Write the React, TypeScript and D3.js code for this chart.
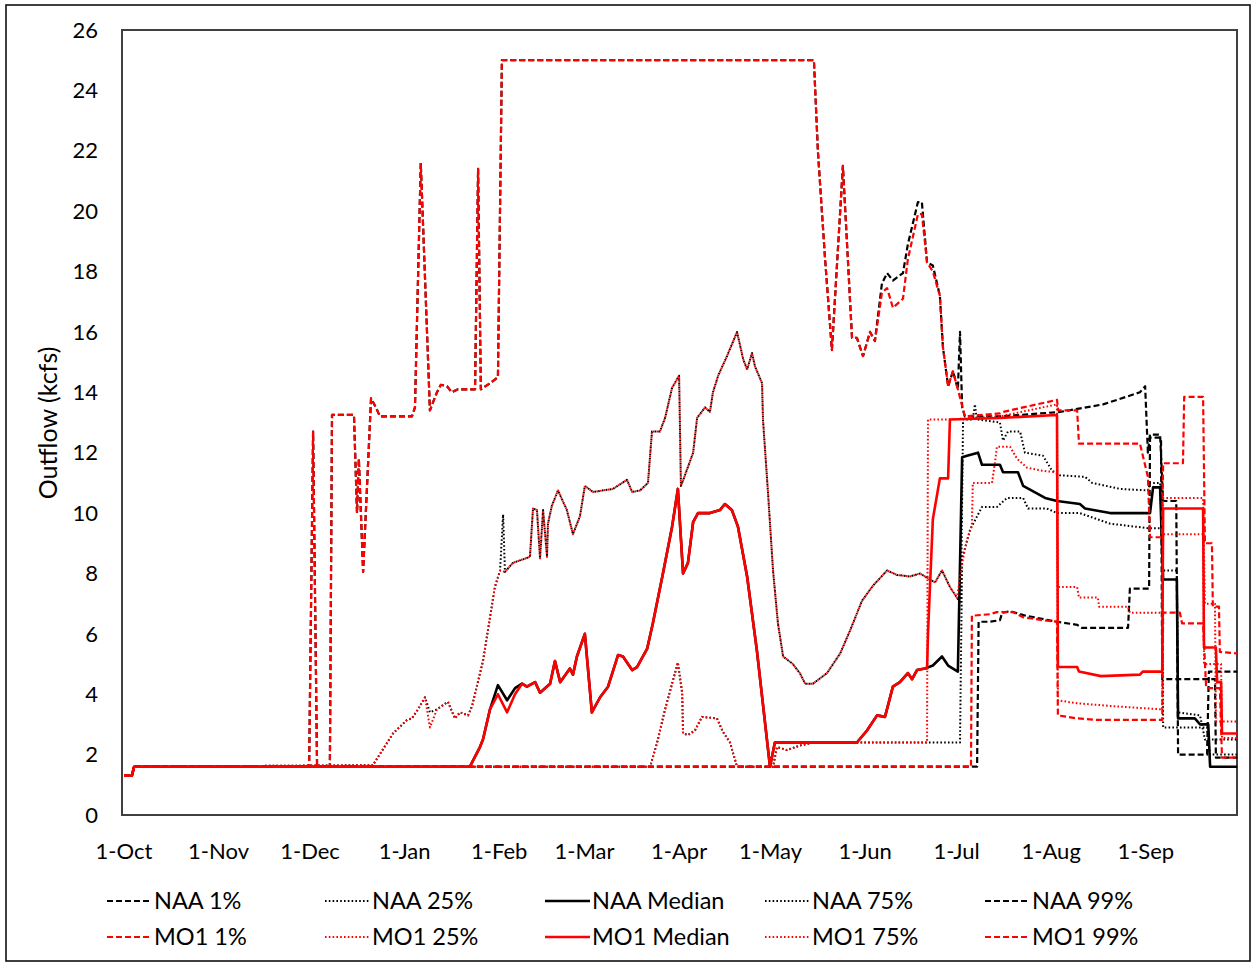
import React from "react";
import * as d3 from "d3";

type Pt = [number, number];

// x = day of water year (0 = 1-Oct), y = outflow (kcfs)
const monthTicks: [number, string][] = [
  [0, "1-Oct"], [31, "1-Nov"], [61, "1-Dec"], [92, "1-Jan"], [123, "1-Feb"], [151, "1-Mar"],
  [182, "1-Apr"], [212, "1-May"], [243, "1-Jun"], [273, "1-Jul"], [304, "1-Aug"], [335, "1-Sep"],
];
const yTicks = [0, 2, 4, 6, 8, 10, 12, 14, 16, 18, 20, 22, 24, 26];

const startPts: Pt[] = [[0, 1.3], [2.6, 1.3], [3.3, 1.6]];

const high99Winter: Pt[] = [
  [60.7, 1.6], [62.0, 12.7], [63.3, 1.6], [67.5, 1.6], [68.2, 13.25], [75.4, 13.25], [76.4, 10.0],
  [77.0, 11.8], [78.4, 8.05], [81.0, 13.8], [82.6, 13.5], [83.9, 13.2], [94.4, 13.2], [95.4, 13.5],
  [97.3, 21.6], [100.3, 13.4], [102.6, 14.0], [103.9, 14.25], [105.9, 14.2], [107.5, 14.0], [109.5, 14.1],
  [115.1, 14.1], [116.1, 21.4], [117.0, 14.1], [120.0, 14.3], [122.6, 14.5], [123.9, 25.0], [226.2, 25.0],
  [227.5, 22.0], [229.8, 18.5], [232.1, 15.4], [235.7, 21.5], [238.7, 15.8], [240.3, 15.8], [242.3, 15.2],
  [244.6, 16.0], [246.2, 15.7],
];

const naa99Summer: Pt[] = [
  [248.5, 17.6], [250.2, 17.95], [252.1, 17.7], [255.4, 17.95], [257.0, 18.9], [260.3, 20.3], [261.6, 20.3],
  [263.3, 18.3], [265.2, 18.2], [267.5, 17.2], [268.5, 15.5], [270.2, 14.2], [271.8, 14.7], [273.4, 14.1],
  [274.1, 16.0], [274.8, 13.5], [275.7, 13.2], [287.2, 13.2], [306.9, 13.35], [321.0, 13.6], [333.1, 14.0],
  [334.8, 14.2], [335.7, 12.0], [336.4, 12.6], [339.7, 12.6], [340.7, 10.4], [345.0, 10.4], [345.6, 2.0],
  [355.1, 2.0], [355.7, 4.75], [365, 4.75],
];

const mo199Summer: Pt[] = [
  [248.5, 17.3], [250.2, 17.45], [252.1, 16.8], [255.4, 17.1], [257.0, 18.4], [260.3, 19.9], [261.6, 19.9],
  [263.3, 18.3], [265.2, 18.0], [267.5, 17.2], [268.5, 15.5], [270.2, 14.2], [271.8, 14.7], [273.4, 14.1],
  [275.7, 13.2], [287.2, 13.3], [288.2, 13.35], [305.9, 13.75], [306.3, 13.4], [312.5, 13.4], [313.1, 12.3],
  [333.1, 12.3], [335.7, 11.2], [336.4, 9.2], [340.3, 9.2], [340.7, 11.65], [347.2, 11.65], [347.6, 13.85],
  [353.8, 13.85], [354.4, 9.0], [356.7, 9.0], [357.0, 6.9], [359.0, 6.9], [359.3, 5.4], [365, 5.35],
];

const naa1Values: Pt[] = [
  [279.7, 1.6], [280.2, 6.4], [283.6, 6.4], [287.2, 6.45], [287.9, 6.7], [290.5, 6.75], [295.7, 6.6],
  [305.9, 6.4], [312.5, 6.3], [314.0, 6.2], [329.2, 6.2], [329.8, 7.5], [336.1, 7.5], [336.4, 12.5],
  [340.0, 12.5], [340.4, 4.5], [357.7, 4.5], [358.0, 1.9], [365, 1.9],
];

const mo11Values: Pt[] = [
  [277.7, 1.6], [278.0, 6.6], [283.9, 6.65], [286.2, 6.72], [291.5, 6.72], [294.8, 6.55], [301.3, 6.45],
  [305.9, 6.4], [306.2, 3.3], [312.5, 3.2], [319.0, 3.15], [340.4, 3.15], [340.7, 6.7], [346.2, 6.7],
  [346.9, 6.35], [353.8, 6.35], [354.8, 4.2], [359.3, 4.2], [360.0, 1.9], [365, 1.9],
];

const naaMedianWinter: Pt[] = [
  [113.4, 1.6], [116.7, 2.25], [117.7, 2.5], [120.0, 3.5], [122.6, 4.3], [125.6, 3.8], [128.2, 4.2],
];
const mo1MedianWinter: Pt[] = [
  [113.4, 1.6], [116.7, 2.25], [117.7, 2.5], [120.0, 3.5], [122.6, 4.0], [125.6, 3.4], [128.2, 4.0],
];
const medianSpring: Pt[] = [
  [130.5, 4.35], [132.1, 4.25], [134.8, 4.4], [136.4, 4.05], [139.7, 4.35], [141.3, 5.1], [143.0, 4.4],
  [146.2, 4.85], [147.2, 4.65], [148.5, 5.25], [151.1, 6.0], [153.4, 3.4], [156.1, 3.9], [158.7, 4.25],
  [162.0, 5.3], [163.6, 5.25], [166.6, 4.8], [168.2, 4.9], [171.5, 5.5], [173.4, 6.35], [176.7, 8.0],
  [179.7, 9.55], [181.6, 10.8], [183.3, 8.0], [184.9, 8.35], [186.6, 9.7], [188.2, 10.0], [192.1, 10.0],
  [195.4, 10.1], [197.0, 10.3], [199.3, 10.1], [201.3, 9.55], [204.3, 7.9], [207.5, 5.45], [211.8, 1.6],
  [213.4, 2.4], [240.3, 2.4], [243.6, 2.8], [246.9, 3.3], [249.5, 3.25], [252.1, 4.25], [254.4, 4.4],
  [257.0, 4.7], [258.4, 4.5], [260.0, 4.8], [262.6, 4.85],
];
const naaMedianSummer: Pt[] = [
  [265.2, 4.95], [268.2, 5.25], [270.2, 4.95], [273.4, 4.75], [274.8, 11.85], [276.4, 11.9], [280.0, 12.0],
  [281.3, 11.6], [287.2, 11.6], [288.2, 11.35], [293.1, 11.35], [294.8, 10.9], [302.0, 10.5], [305.9, 10.4],
  [313.4, 10.3], [315.1, 10.15], [323.3, 10.0], [336.4, 10.0], [337.4, 10.85], [339.7, 10.85], [340.7, 7.8],
  [345.2, 7.8], [345.6, 3.2], [351.1, 3.2], [352.8, 3.0], [355.5, 3.0], [356.1, 1.6], [365, 1.6],
];
const mo1MedianSummer: Pt[] = [
  [263.3, 4.85], [263.6, 6.0], [265.2, 9.8], [267.5, 11.15], [270.2, 11.15], [270.8, 13.1], [287.2, 13.15],
  [305.9, 13.25], [306.2, 4.9], [312.5, 4.9], [313.1, 4.75], [320.3, 4.6], [333.1, 4.65], [334.0, 4.75],
  [340.4, 4.75], [340.7, 10.15], [353.8, 10.15], [354.1, 5.55], [358.0, 5.55], [358.4, 4.4], [359.7, 4.4],
  [360.0, 2.7], [365, 2.7],
];

const upperDottedWinter: Pt[] = [
  [81.6, 1.65], [88.2, 2.7], [92.8, 3.15], [94.4, 3.2], [96.4, 3.5], [98.7, 3.9],
];
const naa75Dec: Pt[] = [[100.3, 3.4]];
const mo175Dec: Pt[] = [[100.3, 2.9]];
const upperDottedJan: Pt[] = [
  [102.6, 3.5], [106.2, 3.75], [108.5, 3.2], [110.2, 3.4], [112.8, 3.3], [114.1, 3.6], [117.7, 5.1],
  [121.6, 7.55], [123.3, 8.1],
];
const naa75Spike: Pt[] = [[124.3, 9.95]];
const upperDottedSpring: Pt[] = [
  [124.9, 8.05], [127.5, 8.35], [133.1, 8.55], [134.1, 10.15], [135.4, 10.1], [136.4, 8.5], [137.4, 10.1],
  [138.7, 8.55], [139.0, 9.65], [140.3, 10.25], [142.3, 10.75], [145.2, 10.1], [147.2, 9.3], [149.5, 9.9],
  [151.1, 10.9], [153.8, 10.7], [160.3, 10.8], [164.9, 11.1], [166.6, 10.7], [169.2, 10.75], [171.8, 11.0],
  [173.1, 12.7], [175.7, 12.7], [177.4, 13.15], [179.7, 14.15], [182.0, 14.55], [182.6, 10.9], [183.0, 11.0],
  [186.6, 12.0], [187.9, 13.15], [190.5, 13.5], [192.1, 13.35], [193.1, 14.0], [194.8, 14.55], [197.7, 15.2],
  [201.0, 16.0], [203.0, 15.1], [204.3, 14.75], [205.9, 15.3], [206.9, 14.85], [209.2, 14.3], [209.5, 13.1],
  [211.1, 10.75], [212.8, 8.1], [214.4, 6.35], [216.1, 5.25], [219.3, 5.0], [221.6, 4.7], [223.3, 4.35],
  [225.9, 4.35], [230.5, 4.7], [234.8, 5.35], [238.0, 6.1], [242.0, 7.1], [245.6, 7.6], [250.2, 8.1],
  [253.4, 7.95], [257.7, 7.9], [261.0, 8.0], [264.3, 7.8], [265.9, 7.7], [268.2, 8.1], [270.8, 7.55],
  [273.1, 7.2],
];
const naa75Summer: Pt[] = [
  [274.4, 7.0], [275.1, 13.1], [278.3, 13.1], [279.0, 13.6], [279.6, 13.1], [287.2, 13.0], [288.2, 12.4],
  [289.8, 12.7], [293.8, 12.7], [295.4, 12.0], [301.3, 11.9], [304.3, 11.4], [306.9, 11.25], [315.1, 11.2],
  [317.4, 11.0], [326.6, 10.8], [335.7, 10.75], [336.4, 11.0], [339.7, 11.0], [340.7, 8.1], [345.2, 8.1],
  [345.6, 3.4], [352.8, 3.3], [354.4, 2.5], [365, 2.5],
];
const mo175Summer: Pt[] = [
  [275.1, 8.5], [276.4, 9.1], [278.0, 9.6], [278.3, 11.0], [284.6, 11.0], [285.6, 11.7], [286.2, 12.2],
  [290.5, 12.2], [292.8, 11.8], [296.1, 11.5], [301.3, 11.4], [305.9, 11.35], [306.2, 3.8], [312.5, 3.7],
  [325.0, 3.6], [340.4, 3.5], [340.7, 9.3], [353.8, 9.3], [354.1, 5.0], [359.7, 5.0], [360.0, 2.55],
  [365, 2.55],
];

const lowerDottedSpring: Pt[] = [
  [172.5, 1.6], [174.8, 2.4], [177.4, 3.5], [179.7, 4.35], [181.6, 5.05], [183.0, 4.05], [183.3, 2.7],
  [184.9, 2.65], [187.2, 2.8], [189.5, 3.25], [194.4, 3.2], [196.4, 2.75], [198.7, 2.4], [201.0, 1.6],
  [212.8, 1.6], [214.1, 2.25], [217.4, 2.15], [221.6, 2.3], [225.9, 2.4],
];
const naa25Summer: Pt[] = [
  [274.1, 2.4], [274.8, 8.5], [277.4, 9.45], [281.3, 10.2], [286.2, 10.2], [289.5, 10.5], [294.8, 10.5],
  [296.4, 10.15], [302.6, 10.15], [305.9, 10.0], [313.4, 10.0], [323.3, 9.65], [335.7, 9.5], [340.4, 9.5],
  [340.7, 2.9], [355.1, 2.9], [356.1, 2.0], [365, 2.0],
];
const mo125Summer: Pt[] = [
  [263.3, 2.4], [263.6, 13.1], [270.2, 13.1], [287.2, 13.2], [305.9, 13.6], [306.2, 7.55], [312.5, 7.55],
  [313.1, 7.2], [319.3, 7.2], [319.7, 6.9], [329.2, 6.9], [329.8, 6.7], [340.4, 6.7], [340.7, 10.5],
  [353.8, 10.5], [354.4, 7.0], [357.7, 7.0], [358.0, 3.1], [365, 3.1],
];

const BLACK = "#000000";
const RED = "#ff0000";

type Style = "dash" | "dot" | "solid";
interface Series { name: string; color: string; style: Style; data: Pt[]; }

const seriesList: Series[] = [
  { name: "NAA 1%", color: BLACK, style: "dash", data: [...startPts, ...naa1Values] },
  { name: "NAA 25%", color: BLACK, style: "dot", data: [...startPts, ...lowerDottedSpring, ...naa25Summer] },
  { name: "NAA Median", color: BLACK, style: "solid", data: [...startPts, ...naaMedianWinter, ...medianSpring, ...naaMedianSummer] },
  { name: "NAA 75%", color: BLACK, style: "dot", data: [...startPts, ...upperDottedWinter, ...naa75Dec, ...upperDottedJan, ...naa75Spike, ...upperDottedSpring, ...naa75Summer] },
  { name: "NAA 99%", color: BLACK, style: "dash", data: [...startPts, ...high99Winter, ...naa99Summer] },
  { name: "MO1 1%", color: RED, style: "dash", data: [...startPts, ...mo11Values] },
  { name: "MO1 25%", color: RED, style: "dot", data: [...startPts, ...lowerDottedSpring, ...mo125Summer] },
  { name: "MO1 Median", color: RED, style: "solid", data: [...startPts, ...mo1MedianWinter, ...medianSpring, ...mo1MedianSummer] },
  { name: "MO1 75%", color: RED, style: "dot", data: [...startPts, ...upperDottedWinter, ...mo175Dec, ...upperDottedJan, ...upperDottedSpring, ...mo175Summer] },
  { name: "MO1 99%", color: RED, style: "dash", data: [...startPts, ...high99Winter, ...mo199Summer] },
];

const legendOrder = ["NAA 1%", "NAA 25%", "NAA Median", "NAA 75%", "NAA 99%", "MO1 1%", "MO1 25%", "MO1 Median", "MO1 75%", "MO1 99%"];

const W = 1255, H = 965;
const plot = { left: 122, top: 30, right: 1237, bottom: 815 };
const FONT = "Lato, 'Open Sans', 'DejaVu Sans', sans-serif";

function styleAttrs(s: Style) {
  if (s === "dash") return { strokeWidth: 2.2, strokeDasharray: "6,3" };
  if (s === "dot") return { strokeWidth: 2, strokeDasharray: "1.6,2.2" };
  return { strokeWidth: 2.6, strokeDasharray: undefined as string | undefined };
}

export default function App() {
  const x = d3.scaleLinear().domain([0, 365]).range([124, 1237.25]);
  const y = d3.scaleLinear().domain([0, 26]).range([plot.bottom, plot.top]);
  const line = d3.line<Pt>().x((d) => x(d[0])).y((d) => y(d[1]));

  const legendCols = [107, 325, 545, 765, 985];
  const legendRows = [901, 937];

  return (
    <svg width={W} height={H} style={{ position: "absolute", left: 0, top: 0, background: "#fff" }}>
      <rect x={0} y={0} width={W} height={H} fill="#fff" />
      <rect x={6} y={5} width={1244} height={956} fill="none" stroke="#000" strokeWidth={1.5} />
      <rect x={plot.left} y={plot.top} width={plot.right - plot.left} height={plot.bottom - plot.top}
        fill="none" stroke="#404040" strokeWidth={2} />
      {yTicks.map((t) => (
        <text key={t} x={98} y={y(t)} dy="0.35em" textAnchor="end" fontFamily={FONT} fontSize={22} fill="#000">{t}</text>
      ))}
      {monthTicks.map(([d, lab]) => (
        <text key={lab} x={x(d)} y={859} textAnchor="middle" fontFamily={FONT} fontSize={22} fill="#000">{lab}</text>
      ))}
      <text transform={`translate(57,423) rotate(-90)`} textAnchor="middle" fontFamily={FONT} fontSize={25} fill="#000">Outflow (kcfs)</text>
      <g>
        {seriesList.map((s) => {
          const st = styleAttrs(s.style);
          return (
            <path key={s.name} d={line(s.data) || ""} fill="none" stroke={s.color}
              strokeWidth={st.strokeWidth} strokeDasharray={st.strokeDasharray} strokeLinejoin="round" />
          );
        })}
      </g>
      {legendOrder.map((name, i) => {
        const s = seriesList.find((q) => q.name === name)!;
        const col = legendCols[i % 5];
        const row = legendRows[Math.floor(i / 5)];
        const st = styleAttrs(s.style);
        return (
          <g key={name}>
            <line x1={col} x2={col + 45} y1={row} y2={row} stroke={s.color} strokeWidth={st.strokeWidth}
              strokeDasharray={st.strokeDasharray} />
            <text x={col + 47} y={row + 8} fontFamily={FONT} fontSize={23.5} fill="#000">{name}</text>
          </g>
        );
      })}
    </svg>
  );
}
